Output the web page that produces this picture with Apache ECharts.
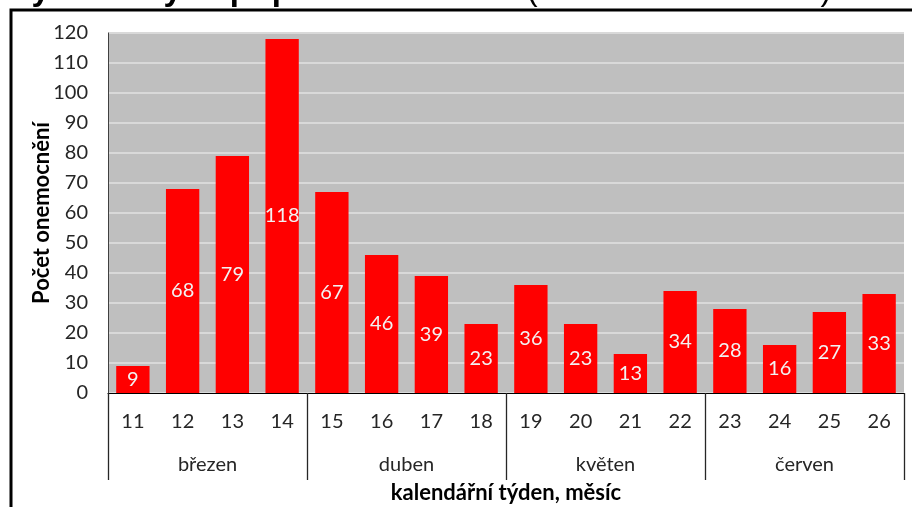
<!DOCTYPE html>
<html><head><meta charset="utf-8">
<script src="https://cdn.jsdelivr.net/npm/echarts@6/dist/echarts.min.js"></script>
<style>html,body{margin:0;padding:0;background:#fff}#c{width:912px;height:507px}</style>
</head><body><div id="c"></div>
<script>
const weeks = ['11','12','13','14','15','16','17','18','19','20','21','22','23','24','25','26'];
const months = ['březen','duben','květen','červen'];
const cases = [9,68,79,118,67,46,39,23,36,23,13,34,28,16,27,33];
const yTicks = {min:0, max:120, interval:10};
const titleBold = 'Počty hlášených případů COVID-19';
const titleNormal = ' (od 1. 3. 2020 dosud).';
const yName = 'Počet onemocnění';
const xName = 'kalendářní týden, měsíc';

const F = 'Lato, "Open Sans", sans-serif';
const chart = echarts.init(document.getElementById('c'));
chart.setOption({
  animation:false,
  backgroundColor:'#fff',
  graphic:[
    {type:'rect', shape:{x:11,y:10,width:940,height:540}, style:{fill:'none',stroke:'#000',lineWidth:3}, z:-1},
    {type:'text', x:512, y:-9, style:{text:titleBold, font:'bold 33px "Liberation Sans", Arial, sans-serif', fill:'#000', textAlign:'right', textVerticalAlign:'middle'}},
    {type:'text', x:518, y:-9, style:{text:titleNormal, font:'32px "Liberation Sans", Arial, sans-serif', fill:'#000', textAlign:'left', textVerticalAlign:'middle'}}
  ],
  grid:{left:108, right:8, top:33, bottom:114, show:true, backgroundColor:'#bfbfbf', borderWidth:0, containLabel:false, outerBoundsMode:'none'},
  xAxis:[
    {type:'category', data:weeks, position:'bottom',
     axisLine:{show:true, lineStyle:{color:'#000', width:1}},
     axisTick:{show:false},
     axisLabel:{margin:19, fontFamily:F, fontSize:20, color:'#262626'}},
    {type:'category', data:months, position:'bottom',
     axisLine:{show:false},
     axisTick:{show:true, length:87, lineStyle:{color:'#262626', width:1.3}},
     axisLabel:{margin:62, fontFamily:F, fontSize:20, color:'#262626'},
     name:xName, nameLocation:'middle', nameGap:89, nameMoveOverlap:false,
     nameTextStyle:{fontFamily:F, fontSize:22, fontWeight:'bold', color:'#000'}}
  ],
  yAxis:{type:'value', min:yTicks.min, max:yTicks.max, interval:yTicks.interval,
    axisLine:{show:true, lineStyle:{color:'#404040', width:1}},
    axisTick:{show:false},
    splitLine:{lineStyle:{color:'#d9d9d9', width:2}},
    axisLabel:{margin:20, fontFamily:F, fontSize:20, color:'#262626'},
    name:yName, nameLocation:'middle', nameGap:55, nameRotate:90, nameMoveOverlap:false,
    nameTextStyle:{fontFamily:F, fontSize:22, fontWeight:'bold', color:'#000'}},
  series:[{type:'bar', data:cases, xAxisIndex:0, barCategoryGap:'33%',
    itemStyle:{color:'#ff0000'},
    label:{show:true, position:'inside', fontFamily:F, fontSize:20, color:'#f2f2f2'}}]
});
</script></body></html>
